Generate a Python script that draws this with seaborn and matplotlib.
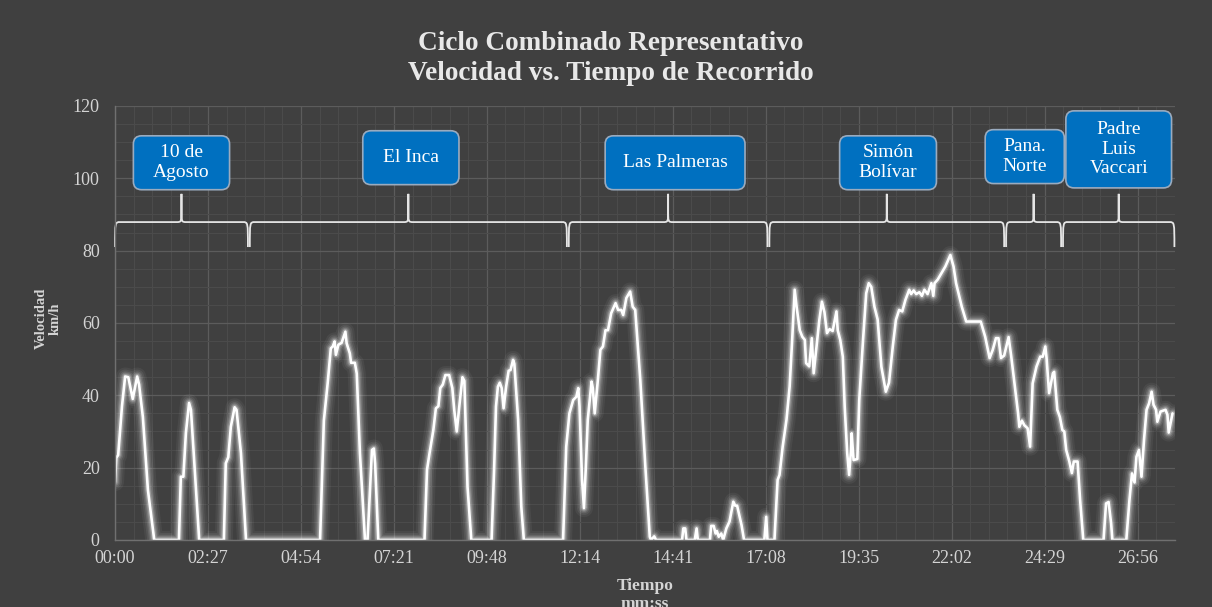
import matplotlib.pyplot as plt
import numpy as np
import pandas as pd
import seaborn as sns
from matplotlib.patches import FancyBboxPatch, PathPatch
from matplotlib.path import Path
from matplotlib.ticker import MultipleLocator

# ── Datos del ciclo (tiempo en s, velocidad en km/h) ─────────────
tiempo_s = [
    0, 2, 5, 11, 16, 21, 28, 35, 38, 44, 52, 62,
    101, 104, 108, 112, 117, 120, 125, 133,
    172, 175, 179, 183, 189, 192, 199, 207,
    324, 330, 336, 341, 344, 347, 349, 353, 358, 364, 366, 371, 373, 379, 382, 387, 395,
    399, 406, 409, 411, 416,
    489, 493, 497, 503, 507, 511, 514, 518, 522, 528, 533, 536, 540, 544, 549, 552, 557, 563,
    595, 599, 602, 605, 608, 611, 614, 618, 622, 625, 629, 631, 637, 642, 646,
    708, 713, 718, 724, 729, 732, 734, 738, 741, 744, 747, 753, 755, 758, 763, 767, 771,
    775, 779, 784, 791, 795, 800, 803, 808, 814, 818, 822, 830, 838, 845, 847, 852, 855,
    896, 898, 901, 903, 916, 919, 921, 940, 942, 946, 949, 951, 954, 958, 961, 966, 971,
    977, 980, 983, 990, 994,
    1026, 1029, 1031, 1042, 1047, 1050, 1055, 1061, 1066, 1070, 1074, 1077, 1082, 1086,
    1090, 1092, 1097, 1101, 1104, 1108, 1113, 1117, 1121, 1125, 1129, 1134, 1140, 1142,
    1146, 1150, 1153, 1157, 1160, 1163, 1164, 1167, 1173, 1176, 1182, 1187, 1191, 1195,
    1200, 1205, 1211, 1218, 1223, 1229, 1234, 1239, 1244, 1249, 1255, 1258, 1262, 1266,
    1271, 1275, 1279, 1284, 1290, 1293, 1295, 1300, 1306, 1312, 1320, 1325, 1329, 1338,
    1345, 1368, 1375, 1382, 1387, 1392, 1396, 1400, 1405, 1412, 1416, 1422, 1427, 1429,
    1433, 1437, 1442, 1446, 1450, 1456, 1462, 1466, 1470, 1472, 1476, 1482, 1484, 1489,
    1493, 1497, 1500, 1503, 1508, 1512, 1515, 1521, 1525, 1530,
    1562, 1566, 1570, 1574, 1576, 1598, 1603, 1607, 1611, 1614, 1618, 1622, 1626, 1630,
    1634, 1638, 1641, 1645, 1647, 1652, 1660, 1663, 1665, 1671,
]
velocidad_kmh = [
    16, 22.7, 23.5, 37, 45.2, 45, 39, 45.2, 43, 34, 13.8, 0,
    0, 17.5, 17.5, 29.6, 37.9, 36, 22, 0,
    0, 21.2, 22.9, 31.3, 36.7, 36, 24, 0,
    0, 33, 43.3, 53, 53.5, 54.9, 51.2, 54, 54.5, 57.6, 54.4, 51.6, 49, 49, 46, 24, 0,
    0, 24.9, 25.3, 21.2, 0,
    0, 19.4, 24, 30.4, 36.4, 37, 42, 43, 45.6, 45.6, 42, 36, 30, 36.9, 45, 44, 14.7, 0,
    0, 19.4, 36.9, 42.4, 43.5, 42, 36.4, 42.4, 46.8, 47, 49.8, 48.7, 33.2, 9.2, 0,
    0, 25.8, 35, 38.7, 39.6, 42, 36.9, 16.6, 8.8, 20.3, 33.2, 43.8, 42, 35, 44.3, 52.6, 53.5,
    58, 58, 62.7, 65.5, 63.6, 63.6, 62.2, 66.9, 68.7, 64.5, 63.6, 44.3, 20.3, 0.9, 0, 1, 0,
    0, 3.2, 3.2, 0, 0, 3.2, 0, 0, 3.9, 3.9, 1.8, 2.5, 0.9, 1.8, 0, 3.2, 5.1,
    10.6, 9.5, 9.5, 4.1, 0,
    0, 6.4, 0, 0, 16.6, 18, 25.8, 33.2, 42.4, 55.3, 69.2, 64.5, 58, 56.2,
    55.3, 48.9, 48, 55.8, 46.1, 52.6, 60.9, 65.9, 63, 57.2, 58.3, 57.8, 63.2, 58,
    55.3, 50.7, 36.9, 24, 18, 24.9, 29.5, 22.1, 22.4, 38.7, 55.3, 68.2, 71, 70,
    64.5, 61, 47.9, 41, 43.5, 53.5, 60.9, 63.6, 63.2, 66.4, 69.2, 68, 69, 68,
    68.5, 67.5, 69.2, 68, 71, 67.5, 71, 72, 73.8, 75.6, 78.8, 75.6, 71, 64.5,
    60.4, 60.4, 56.2, 50.3, 52.6, 55.8, 55.8, 50.3, 51, 56.1, 51, 42.4, 35, 31.3,
    33, 31.7, 30.9, 25.8, 43.3, 47.9, 50.7, 50.7, 53.5, 50.3, 40.6, 46.1, 46.5, 36,
    34, 30.4, 30, 24.9, 21.7, 18.5, 21.7, 21.7, 11.1, 0,
    0, 10.1, 10.5, 4.6, 0, 0, 11.1, 18.4, 15.9, 23, 24.9, 17.5, 27.7, 36,
    37.8, 41, 37.4, 36, 32.7, 35.5, 36, 34.6, 29.7, 35,
]

# ── Tramos de la ruta (inicio / fin en s) ────────────────────────
tramos = ["10 de\nAgosto", "El Inca", "Las Palmeras", "Simón\nBolívar",
          "Pana.\nNorte", "Padre\nLuis\nVaccari"]
tramo_inicio = [0, 213, 717, 1034, 1408, 1498]
tramo_fin = [210, 714, 1031, 1405, 1495, 1674]

tick_labels = ["00:00", "02:27", "04:54", "07:21", "09:48", "12:14",
               "14:41", "17:08", "19:35", "22:02", "24:29", "26:56"]
paso_tick = 146.9

# ── Diseño de las etiquetas (desplazamiento y tamaño de cajas) ───
caja_dx = [0, 4, 11, 2, -14, 0]
caja_y = [104.3, 105.7, 104.3, 104.3, 106.0, 108.0]
caja_w = [152, 152, 221, 153, 125, 167]
caja_h = [14.9, 14.9, 14.9, 14.9, 14.9, 21.3]

FONDO = "#404040"
TEXTO = "#d4d4d4"

sns.set_theme(style="darkgrid")
plt.rcParams.update({
    "figure.facecolor": FONDO,
    "axes.facecolor": FONDO,
    "savefig.facecolor": FONDO,
})
plt.rcParams["font.family"] = ["Liberation Serif", "DejaVu Serif"]

fig = plt.figure(figsize=(12.12, 6.07), dpi=100)
ax = fig.add_axes([0.0949, 0.1104, 0.8746, 0.7150])

df = pd.DataFrame({"tiempo": tiempo_s, "velocidad": velocidad_kmh})

# Halo luminoso bajo la línea principal
for lw, alpha in [(13, 0.05), (10, 0.07), (7.5, 0.1), (5.5, 0.15), (3.8, 0.25)]:
    sns.lineplot(data=df, x="tiempo", y="velocidad", ax=ax, color="white",
                 lw=lw, alpha=alpha, estimator=None, sort=False,
                 solid_joinstyle="round", solid_capstyle="round")
sns.lineplot(data=df, x="tiempo", y="velocidad", ax=ax, color="white",
             lw=1.9, estimator=None, sort=False, solid_joinstyle="round")

ax.set_xlim(0, 1675)
ax.set_ylim(0, 120)
ax.set_xticks([i * paso_tick for i in range(len(tick_labels))])
ax.set_xticklabels(tick_labels)
ax.xaxis.set_minor_locator(MultipleLocator(paso_tick / 5))
ax.yaxis.set_major_locator(MultipleLocator(20))
ax.yaxis.set_minor_locator(MultipleLocator(5))

ax.grid(which="major", color="#5c5c5c", lw=0.9)
ax.grid(which="minor", color="#4b4b4b", lw=0.8)
ax.set_axisbelow(True)
ax.tick_params(axis="both", which="both", length=0, colors=TEXTO, labelsize=13)
ax.tick_params(axis="x", pad=7)
ax.tick_params(axis="y", pad=11)

for side in ["top", "right"]:
    ax.spines[side].set_visible(False)
for side in ["left", "bottom"]:
    ax.spines[side].set_visible(True)
    ax.spines[side].set_color("#707070")
    ax.spines[side].set_linewidth(1.0)

ax.set_xlabel("Tiempo\nmm:ss", color=TEXTO, fontsize=12.5, fontweight="bold",
              linespacing=1.15)
ax.xaxis.set_label_coords(0.5, -0.088)
ax.set_ylabel("Velocidad\nkm/h", color=TEXTO, fontsize=10.5, fontweight="bold",
              linespacing=1.1)
ax.yaxis.set_label_coords(-0.050, 0.51)

fig.text(0.504, 0.904, "Ciclo Combinado Representativo\nVelocidad vs. Tiempo de Recorrido",
         ha="center", va="center", color="#e8e8e8", fontsize=19.6,
         fontweight="bold", linespacing=1.25)

# ── Llaves que delimitan cada tramo ──────────────────────────────
y_base, y_linea, y_punta = 81.0, 87.9, 95.7
d = 8
for x0, x1 in zip(tramo_inicio, tramo_fin):
    xm = (x0 + x1) / 2
    y_med = y_linea + (y_punta - y_linea) * 0.45
    verts = [
        (x0, y_base), (x0, y_linea), (x0, y_linea), (x0 + d, y_linea),
        (xm - d, y_linea),
        (xm, y_linea), (xm, y_linea), (xm, y_med),
        (xm, y_punta), (xm, y_med),
        (xm, y_linea), (xm, y_linea), (xm + d, y_linea),
        (x1 - d, y_linea),
        (x1, y_linea), (x1, y_linea), (x1, y_base),
    ]
    codes = [Path.MOVETO, Path.CURVE4, Path.CURVE4, Path.CURVE4,
             Path.LINETO,
             Path.CURVE4, Path.CURVE4, Path.CURVE4,
             Path.LINETO, Path.LINETO,
             Path.CURVE4, Path.CURVE4, Path.CURVE4,
             Path.LINETO,
             Path.CURVE4, Path.CURVE4, Path.CURVE4]
    ax.add_patch(PathPatch(Path(verts, codes), fill=False, edgecolor="#e6e6e6",
                           lw=1.3, clip_on=False))

# ── Cajas con el nombre de cada tramo ────────────────────────────
aspecto = 0.175
for nombre, x0, x1, dx, cy, w, h in zip(tramos, tramo_inicio, tramo_fin,
                                        caja_dx, caja_y, caja_w, caja_h):
    cx = (x0 + x1) / 2 + dx
    caja = FancyBboxPatch((cx - w / 2, cy - h / 2), w, h,
                          boxstyle="round,pad=0,rounding_size=13",
                          mutation_aspect=aspecto, facecolor="#0070C0",
                          edgecolor="#9aabbf", lw=1.2, clip_on=False, zorder=5)
    ax.add_patch(caja)
    ax.text(cx, cy, nombre, ha="center", va="center", color="white",
            fontsize=14, linespacing=1.2, zorder=6)

plt.savefig("out.png", dpi=100, facecolor=FONDO)
